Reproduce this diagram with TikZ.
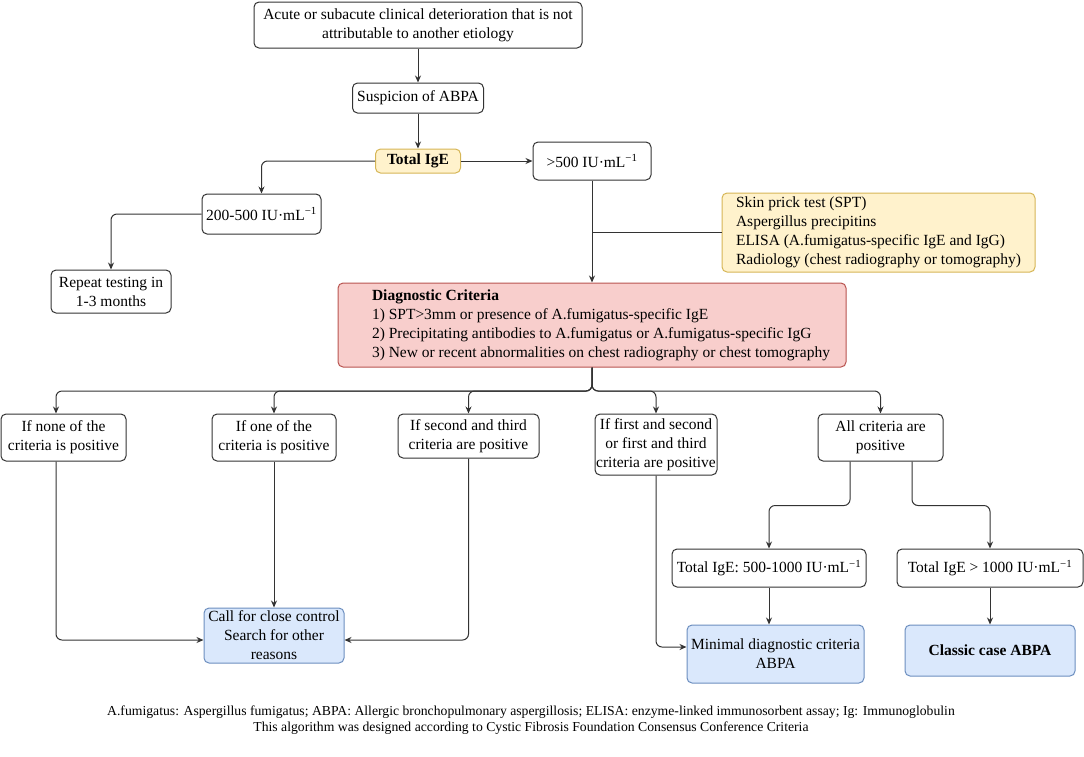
\documentclass[tikz,border=0pt]{standalone}
\usepackage{fontspec}
\setmainfont{Liberation Serif}
\usetikzlibrary{arrows.meta}
\definecolor{ln}{HTML}{333333}
\definecolor{yelfill}{HTML}{FFF2CC}
\definecolor{yeldraw}{HTML}{D6B656}
\definecolor{pinkfill}{HTML}{F8CECC}
\definecolor{pinkdraw}{HTML}{B85450}
\definecolor{bluefill}{HTML}{DAE8FC}
\definecolor{bluedraw}{HTML}{6C8EBF}
\newcommand\ium{IU·mL\textsuperscript{−1}}
\begin{document}
\begin{tikzpicture}[x=1pt,y=-1pt,
  box/.style={draw=ln, line width=1pt, rounded corners=5pt, align=center,
    inner sep=0pt, fill=white, font=\fontsize{15.5}{19}\selectfont, text=black},
  yel/.style={box, fill=yelfill, draw=yeldraw},
  pink/.style={box, fill=pinkfill, draw=pinkdraw},
  blue/.style={box, fill=bluefill, draw=bluedraw},
  conn/.style={draw=ln, line width=1pt, rounded corners=6pt, -{Stealth[length=7pt,width=6pt]}},
  plain/.style={draw=ln, line width=1pt},
]
\useasboundingbox (0,0) rectangle (1084,756);

\node[box, minimum width=328pt, minimum height=46pt] (top) at (418,25)
  {Acute or subacute clinical deterioration that is not\\attributable to another etiology};
\node[box, minimum width=131pt, minimum height=30pt] (susp) at (418,98) {Suspicion of ABPA};
\node[yel, minimum width=85pt, minimum height=24pt] (tige) at (418,161) {\textbf{Total IgE}};
\node[box, minimum width=118pt, minimum height=38pt] (gt) at (592,161) {>500 \ium};
\node[box, minimum width=119pt, minimum height=40pt] (low) at (261.5,214) {200-500 \ium};
\node[box, minimum width=120pt, minimum height=43pt] (rep) at (111,291.5) {Repeat testing in\\1-3 months};
\node[yel, minimum width=313pt, minimum height=79pt] (tests) at (878.5,232.5)
  {\begin{tabular}{@{}l@{}}Skin prick test (SPT)\\Aspergillus precipitins\\ELISA (A.fumigatus-specific IgE and IgG)\\Radiology (chest radiography or tomography)\end{tabular}};
\node[pink, minimum width=508pt, minimum height=84pt] (diag) at (592,325)
  {\hspace*{18pt}\begin{tabular}{@{}l@{}}\textbf{Diagnostic Criteria}\\1) SPT>3mm or presence of A.fumigatus-specific IgE\\2) Precipitating antibodies to A.fumigatus or A.fumigatus-specific IgG\\3) New or recent abnormalities on chest radiography or chest tomography\end{tabular}};

\node[box, minimum width=125pt, minimum height=47pt] (none) at (63.5,437.5) {If none of the\\criteria is positive};
\node[box, minimum width=124pt, minimum height=47pt] (one) at (274,437.5) {If one of the\\criteria is positive};
\node[box, minimum width=141pt, minimum height=44pt] (second) at (468.5,436) {If second and third\\criteria are positive};
\node[box, minimum width=122pt, minimum height=61pt] (first) at (656,444.5) {If first and second\\or first and third\\criteria are positive};
\node[box, minimum width=125pt, minimum height=47pt] (all) at (880.5,437.5) {All criteria are\\positive};

\node[box, minimum width=194pt, minimum height=38pt] (igeA) at (769,568) {Total IgE: 500-1000 \ium};
\node[box, minimum width=186pt, minimum height=38pt] (igeB) at (990,568) {Total IgE > 1000 \ium};

\node[blue, minimum width=140pt, minimum height=55pt] (call) at (274,635.5) {Call for close control\\Search for other\\reasons};
\node[blue, minimum width=177pt, minimum height=58pt] (mini) at (775.5,654) {Minimal diagnostic criteria\\ABPA};
\node[blue, minimum width=170pt, minimum height=51pt] (classic) at (990,650.5) {\textbf{Classic case ABPA}};

\node[align=center, inner sep=0pt, font=\fontsize{13.7}{16}\selectfont] (foot) at (531,720)
  {A.fumigatus: Aspergillus fumigatus; ABPA: Allergic bronchopulmonary aspergillosis; ELISA: enzyme-linked immunosorbent assay; Ig: Immunoglobulin\\
   This algorithm was designed according to Cystic Fibrosis Foundation Consensus Conference Criteria};

% connectors
\draw[conn] (top.south) -- (susp.north);
\draw[conn] (susp.south) -- (tige.north);
\draw[conn] (tige.east) -- (gt.west);
\draw[conn] (tige.west) -| (low.north);
\draw[conn] (low.west) -| (rep.north);
\draw[conn] (gt.south) -- (diag.north);
\draw[plain] (tests.west) -- (tests.west -| gt.south);

\coordinate (bus) at (592,391);
\draw[conn] (diag.south) -- (bus) -| ([xshift=-7.5pt]none.north);
\draw[conn] (diag.south) -- (bus) -| (one.north);
\draw[conn] (diag.south) -- (bus) -| (second.north);
\draw[conn] (diag.south) -- (bus) -| (first.north);
\draw[conn] (diag.south) -- (bus) -| (all.north);

\draw[conn] ([xshift=-7.5pt]none.south) |- ([yshift=-4.5pt]call.west);
\draw[conn] (one.south) -- (call.north);
\draw[conn] (second.south) |- ([yshift=-4.5pt]call.east);
\draw[conn] (first.south) |- ([yshift=7pt]mini.west);

\draw[conn] ([xshift=-30.5pt]all.south) -- ++(0,44) -| (igeA.north);
\draw[conn] ([xshift=31.5pt]all.south) -- ++(0,44) -| (igeB.north);
\draw[conn] (igeA.south) -- (igeA.south |- mini.north);
\draw[conn] (igeB.south) -- (classic.north);
\end{tikzpicture}
\end{document}
